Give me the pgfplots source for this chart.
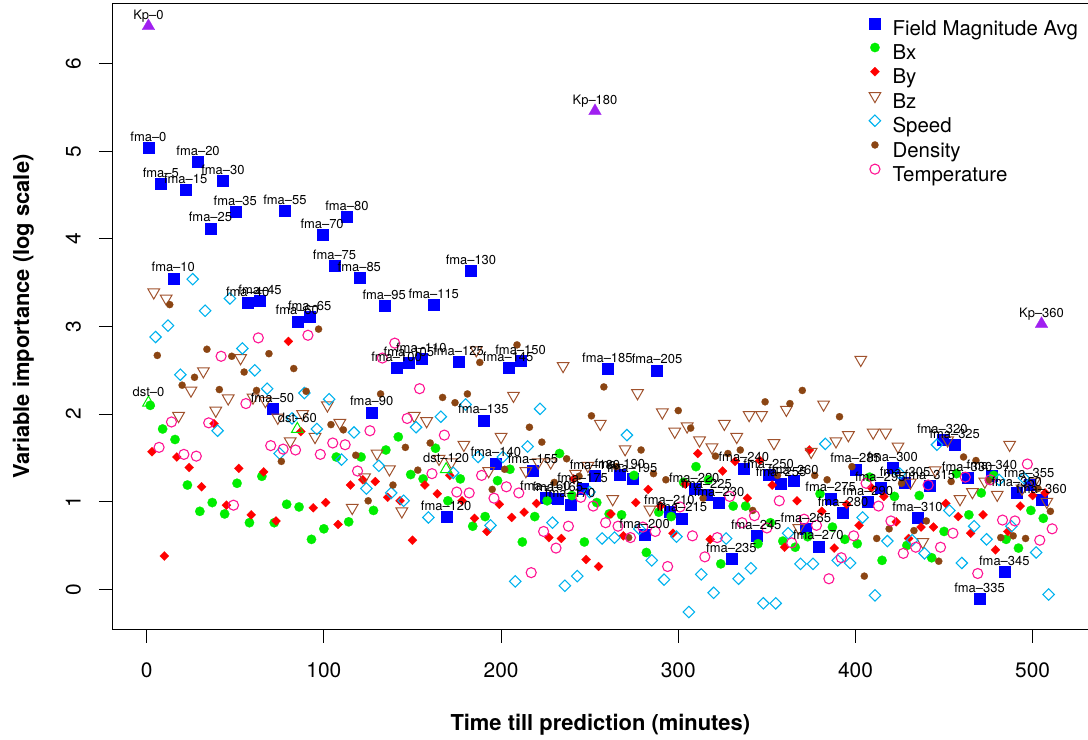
\documentclass[border=0pt]{standalone}
\usepackage{fontspec}
\setmainfont{TeX Gyre Heros}
\usepackage{pgfplots}
\usepackage{pgfplotstable}
\pgfplotsset{compat=1.18}

\definecolor{fmablue}{HTML}{0000FF}
\definecolor{bxgreen}{HTML}{00EE00}
\definecolor{byred}{HTML}{FF0000}
\definecolor{bzbrown}{HTML}{A0522D}
\definecolor{speedblue}{HTML}{00B2EE}
\definecolor{densbrown}{HTML}{8B4513}
\definecolor{temppink}{HTML}{FF1493}
\definecolor{kppurple}{HTML}{A020F0}

% field magnitude average, one row per lead time (label = minutes)
\pgfplotstableread{
x y m
1 5.04 fma--0
8 4.63 fma--5
15 3.55 fma--10
22 4.56 fma--15
29 4.88 fma--20
36 4.12 fma--25
43 4.66 fma--30
50 4.31 fma--35
57 3.27 fma--40
64 3.29 fma--45
71 2.06 fma--50
78 4.32 fma--55
85 3.06 fma--60
92 3.11 fma--65
99 4.05 fma--70
106 3.69 fma--75
113 4.25 fma--80
120 3.56 fma--85
127 2.02 fma--90
134 3.24 fma--95
141 2.53 fma--100
148 2.59 fma--105
155 2.63 fma--110
162 3.25 fma--115
169 0.83 fma--120
176 2.60 fma--125
183 3.64 fma--130
190 1.93 fma--135
197 1.44 fma--140
204 2.53 fma--145
211 2.61 fma--150
218 1.36 fma--155
225 1.05 fma--160
232 1.04 fma--165
239 0.97 fma--170
246 1.15 fma--175
253 1.30 fma--180
260 2.52 fma--185
267 1.31 fma--190
274 1.26 fma--195
281 0.62 fma--200
288 2.50 fma--205
295 0.89 fma--210
302 0.81 fma--215
309 1.15 fma--220
316 1.08 fma--225
323 0.99 fma--230
330 0.35 fma--235
337 1.38 fma--240
344 0.61 fma--245
351 1.31 fma--250
358 1.21 fma--255
365 1.24 fma--260
372 0.69 fma--265
379 0.49 fma--270
386 1.04 fma--275
393 0.87 fma--280
400 1.37 fma--285
407 1.00 fma--290
414 1.16 fma--295
421 1.39 fma--300
428 1.22 fma--305
435 0.82 fma--310
442 1.18 fma--315
449 1.71 fma--320
456 1.65 fma--325
463 1.27 fma--330
470 -0.11 fma--335
477 1.30 fma--340
484 0.20 fma--345
491 1.10 fma--350
498 1.20 fma--355
505 1.02 fma--360
}\fmatab

\pgfplotsset{
  lab/.style={
    point meta=explicit symbolic, nodes near coords,
    every node near coord/.append style={font=\fontsize{13}{13}\selectfont,
      text=black, anchor=base, inner sep=0pt, yshift=6.4bp}},
}

\begin{document}
\begin{tikzpicture}
\useasboundingbox (0,0) rectangle (1088bp,740bp);
\begin{axis}[
  at={(112.3bp,110.7bp)}, anchor=south west,
  scale only axis, width=976bp, height=626bp,
  xmin=-19.4, xmax=531.4, ymin=-0.457, ymax=6.69,
  xtick={0,100,200,300,400,500}, ytick={0,1,2,3,4,5,6},
  tick pos=left, tick align=outside, major tick length=13.5bp,
  axis line style={line width=1.1bp},
  every tick/.style={black, line width=1.1bp},
  /pgf/number format/assume math mode=true,
  tick label style={font=\fontsize{21}{24}\selectfont, inner sep=0pt},
  xticklabel style={anchor=base, yshift=-34.9bp},
  yticklabel style={xshift=-18.1bp, rotate=90, anchor=base},
  xlabel={Time till prediction (minutes)},
  ylabel={Variable importance (log scale)},
  label style={font=\fontsize{22}{26}\selectfont\bfseries, inner sep=0pt},
  xlabel style={at={(axis description cs:0.5,-0.1609)}, anchor=base},
  ylabel style={at={(axis description cs:-0.0853,0.5)}, anchor=base},
  legend style={draw=none, fill=none, inner sep=0pt, outer sep=0pt,
    at={(axis description cs:0.7754,0.9768)}, anchor=north west,
    font=\fontsize{20.5}{24}\selectfont, row sep=0pt,
    nodes={inner sep=2bp, text height=15.2bp, text depth=5bp},
    /tikz/every odd column/.append style={column sep=9.8bp}},
  legend cell align=left,
  legend image code/.code={\draw[#1] plot coordinates {(0bp,7bp)};},
]
\addplot[only marks, mark=square*, mark size=5.5bp, color=fmablue,
  mark options={solid, line width=0.2bp}] table[x=x, y=y] {\fmatab};
\addlegendentry{Field Magnitude Avg}

\addplot[only marks, mark=*, mark size=4.7bp, color=bxgreen,
  mark options={solid, line width=0.2bp}] coordinates {
(2,2.10) (9,1.83) (16,1.71) (23,1.19) (30,0.89) (37,0.99) (44,0.86) (51,1.21)
(58,0.76) (65,1.29) (72,0.76) (79,0.97) (86,0.94) (93,0.57) (100,0.69) (107,1.51)
(114,0.77) (121,1.51) (128,0.90) (135,1.59) (142,1.74) (149,1.31) (156,1.26) (163,1.61)
(170,1.01) (177,1.26) (184,0.72) (191,0.83) (198,1.24) (205,1.37) (212,0.54) (219,0.83)
(226,1.01) (233,1.55) (240,1.07) (247,0.54) (254,0.99) (261,0.86) (268,0.85) (275,1.30)
(282,0.42) (289,0.88) (296,0.83) (303,1.22) (310,1.40) (317,1.25) (324,0.29) (331,0.95)
(338,0.95) (345,0.52) (352,0.76) (359,0.55) (366,0.48) (373,0.60) (380,1.09) (387,0.71)
(394,0.57) (401,0.52) (408,1.28) (415,0.33) (422,1.06) (429,0.50) (436,1.07) (443,0.36)
(450,0.66) (457,1.32) (464,0.85) (471,1.10) (478,1.30) (485,0.57) (492,0.47) (499,0.90)
(506,0.81)
};
\addlegendentry{Bx}

\addplot[only marks, mark=square*, mark size=3.2bp, color=byred,
  mark options={solid, rotate=45, line width=0.2bp}] coordinates {
(3,1.57) (10,0.38) (17,1.51) (24,1.39) (31,1.17) (38,1.89) (45,0.96) (52,1.38)
(59,0.85) (66,1.34) (73,0.78) (80,2.83) (87,1.80) (94,0.93) (101,0.99) (108,0.74)
(115,1.19) (122,1.25) (129,1.23) (136,1.05) (143,1.01) (150,0.56) (157,1.19) (164,1.09)
(171,1.30) (178,1.01) (185,0.81) (192,0.66) (199,0.97) (206,0.82) (213,0.88) (220,0.98)
(227,0.59) (234,0.58) (241,1.26) (248,0.34) (255,0.26) (262,0.86) (269,0.61) (276,0.99)
(283,1.14) (290,0.95) (297,0.64) (304,1.20) (311,1.55) (318,0.57) (325,1.35) (332,1.46)
(339,1.04) (346,1.47) (353,1.19) (360,0.48) (367,1.01) (374,1.59) (381,0.89) (388,0.47)
(395,0.97) (402,0.73) (409,1.16) (416,1.06) (423,0.77) (430,0.58) (437,0.71) (444,0.71)
(451,0.98) (458,0.83) (465,0.64) (472,0.85) (479,0.45) (486,0.66) (493,0.95) (500,1.07)
(507,1.10)
};
\addlegendentry{By}

\addplot[only marks, mark=triangle, mark size=6.75bp, color=bzbrown,
  mark options={solid, rotate=180, line width=1bp}] coordinates {
(4,3.39) (11,3.32) (18,1.98) (25,2.27) (32,2.49) (39,2.04) (46,2.18) (53,2.64)
(60,2.19) (67,2.15) (74,1.96) (81,1.69) (88,2.00) (95,1.74) (102,2.10) (109,1.90)
(116,0.93) (123,1.28) (130,1.55) (137,1.37) (144,0.89) (151,1.98) (158,1.92) (165,1.49)
(172,1.45) (179,1.65) (186,2.73) (193,1.35) (200,1.74) (207,2.21) (214,1.35) (221,1.45)
(228,1.45) (235,2.55) (242,1.32) (249,1.41) (256,1.89) (263,1.03) (270,1.60) (277,2.24)
(284,0.91) (291,2.02) (298,1.80) (305,1.86) (312,1.70) (319,1.62) (326,1.89) (333,1.74)
(340,1.99) (347,1.99) (354,1.67) (361,2.05) (368,0.70) (375,1.57) (382,2.11) (389,1.69)
(396,1.76) (403,2.62) (410,1.79) (417,1.79) (424,1.63) (431,1.22) (438,0.54) (445,1.36)
(452,1.70) (459,1.03) (466,1.11) (473,1.23) (480,1.08) (487,1.65) (494,1.15) (501,1.23)
(508,1.00)
};
\addlegendentry{Bz}

\addplot[only marks, mark=square, mark size=4.05bp, color=speedblue,
  mark options={solid, rotate=45, line width=1.1bp}] coordinates {
(5,2.88) (12,3.01) (19,2.45) (26,3.54) (33,3.18) (40,1.81) (47,3.32) (54,2.75)
(61,2.50) (68,2.29) (75,1.55) (82,1.95) (89,2.24) (96,1.83) (103,2.17) (110,1.48)
(117,1.79) (124,1.15) (131,1.41) (138,1.10) (145,1.01) (152,1.85) (159,0.82) (166,1.97)
(173,1.33) (180,2.11) (187,1.51) (194,0.73) (201,1.51) (208,0.09) (215,1.63) (222,2.06)
(229,0.76) (236,0.04) (243,0.15) (250,1.11) (257,0.58) (264,0.59) (271,1.76) (278,0.69)
(285,0.33) (292,0.11) (299,0.60) (306,-0.26) (313,0.17) (320,-0.04) (327,0.58) (334,0.12)
(341,0.24) (348,-0.16) (355,-0.16) (362,0.64) (369,0.29) (376,0.29) (383,1.66) (390,0.33)
(397,0.30) (404,0.82) (411,-0.07) (418,0.55) (425,1.32) (432,0.56) (439,0.41) (446,1.65)
(453,0.90) (460,0.30) (467,0.72) (474,0.57) (481,1.25) (488,0.72) (495,1.27) (502,0.42)
(509,-0.06)
};
\addlegendentry{Speed}

\addplot[only marks, mark=*, mark size=3.6bp, color=densbrown,
  mark options={solid, line width=0.2bp}] coordinates {
(6,2.67) (13,3.25) (20,2.33) (27,2.42) (34,2.74) (41,2.28) (48,2.66) (55,2.48)
(62,2.27) (69,2.69) (76,1.46) (83,2.52) (90,2.26) (97,2.97) (104,1.88) (111,1.82)
(118,1.53) (125,1.01) (132,2.23) (139,1.19) (146,1.62) (153,1.36) (160,1.67) (167,2.19)
(174,2.13) (181,2.23) (188,2.59) (195,1.14) (202,1.37) (209,2.79) (216,1.85) (223,1.68)
(230,1.22) (237,1.49) (244,1.29) (251,1.98) (258,2.31) (265,1.40) (272,0.59) (279,1.59)
(286,1.32) (293,1.25) (300,2.04) (307,1.84) (314,1.04) (321,1.52) (328,1.55) (335,1.59)
(342,0.90) (349,2.14) (356,1.30) (363,2.12) (370,2.27) (377,1.30) (384,1.25) (391,1.97)
(398,1.40) (405,0.15) (412,0.58) (419,0.69) (426,1.21) (433,0.67) (440,0.78) (447,0.32)
(454,1.23) (461,1.51) (468,1.47) (475,1.24) (482,0.59) (489,0.61) (496,0.58) (503,1.15)
(510,0.89)
};
\addlegendentry{Density}

\addplot[only marks, mark=o, mark size=5.05bp, color=temppink,
  mark options={solid, line width=1.1bp}] coordinates {
(7,1.62) (14,1.91) (21,1.54) (28,1.52) (35,1.90) (42,2.66) (49,0.96) (56,2.12)
(63,2.87) (70,1.64) (77,1.60) (84,1.59) (91,2.90) (98,1.54) (105,1.67) (112,1.65)
(119,1.35) (126,1.81) (133,2.64) (140,2.81) (147,1.95) (154,2.29) (161,1.32) (168,1.76)
(175,1.11) (182,1.10) (189,1.30) (196,1.04) (203,1.17) (210,1.10) (217,0.19) (224,0.66)
(231,0.47) (238,0.72) (245,1.05) (252,0.95) (259,0.76) (266,0.72) (273,0.59) (280,0.71)
(287,0.66) (294,0.26) (301,0.94) (308,0.61) (315,0.37) (322,0.59) (329,1.06) (336,0.76)
(343,0.84) (350,0.70) (357,1.01) (364,0.53) (371,0.80) (378,0.73) (385,0.12) (392,0.36)
(399,0.61) (406,1.21) (413,0.95) (420,0.78) (427,0.41) (434,0.48) (441,1.19) (448,0.48)
(455,0.64) (462,1.28) (469,0.18) (476,1.25) (483,0.79) (490,0.78) (497,1.43) (504,0.56)
(511,0.69)
};
\addlegendentry{Temperature}

% extra indices: Kp and dst
\addplot[forget plot, only marks, mark=triangle*, mark size=7.3bp, color=kppurple,
  mark options={solid, line width=0.2bp}, lab] table[x=x, y=y, meta=m] {
x y m
1 6.43 Kp--0
253 5.46 Kp--180
505 3.03 Kp--360
};
\addplot[forget plot, only marks, mark=triangle, mark size=6.6bp, color=bxgreen,
  mark options={solid, line width=1bp}, lab] table[x=x, y=y, meta=m] {
x y m
1 2.13 dst--0
85 1.83 dst--60
169 1.37 dst--120
};
% labels of the field magnitude points, on top
\addplot[forget plot, draw=none, mark=none, lab] table[x=x, y=y, meta=m] {\fmatab};
\end{axis}
\end{tikzpicture}
\end{document}
